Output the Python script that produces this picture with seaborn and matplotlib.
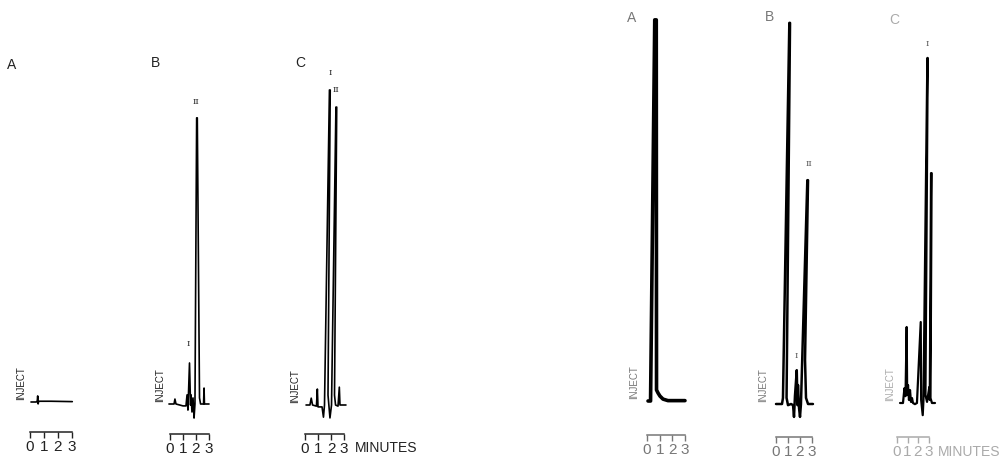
import matplotlib
matplotlib.use('Agg')
import matplotlib.pyplot as plt
import seaborn as sns

# chromatogram traces: time in minutes, response in % of full scale
left_a_t = [0.07, 0.45, 0.52, 0.55, 0.58, 0.62, 1.5, 3.02]
left_a_y = [0.0, 0.0, 0.3, 1.6, -0.5, 0.2, 0.2, 0.1]

left_b_t = [-0.08, 0.31, 0.38, 0.46, 1.0, 1.23, 1.31, 1.38, 1.5, 1.58, 1.62, 1.69, 1.77, 1.85,
            1.92, 2.05, 2.1, 2.27, 2.35, 2.45, 2.58, 2.62, 2.65, 3.0]
left_b_y = [0.0, 0.0, 1.3, 0.0, -0.5, -0.5, 2.4, -1.6, 10.8, -0.3, 2.4, -2.1, 1.6, -3.7,
            0.0, 75.3, 75.3, 1.6, 0.0, 0.0, 0.0, 4.2, 0.0, 0.0]

left_c_t = [0.08, 0.38, 0.48, 0.58, 0.88, 0.95, 1.0, 1.31, 1.42, 1.5, 1.88, 1.94, 1.77,
            1.92, 2.04, 2.38, 2.44, 2.27, 2.35, 2.54, 2.64, 2.69, 3.15]
left_c_y = [0.0, 0.0, 1.8, 0.0, -0.3, 4.2, -0.5, -0.5, -3.2, 0.0, 82.9, 82.9, 2.6,
            -3.4, 0.0, 78.4, 78.4, 2.6, 0.0, -0.3, 4.7, 0.0, 0.0]

right_a_t = [0.08, 0.28, 0.61, 0.73, 0.75, 0.87, 1.02, 1.26, 1.65, 2.99]
right_a_y = [0.0, 0.0, 100.3, 100.3, 2.9, 2.1, 1.3, 0.5, 0.1, 0.1]

right_b_t = [0.0, 0.5, 0.58, 1.11, 1.17, 0.88, 1.0, 1.25, 1.42, 1.5, 1.58, 1.73, 1.79, 1.83,
             1.92, 2.0, 2.08, 2.61, 2.67, 2.42, 2.5, 2.67, 3.08]
right_b_y = [0.0, 0.0, 1.6, 100.3, 100.3, 1.6, -0.3, 0.0, -0.3, -3.4, 2.1, 8.9, -0.3, 5.0,
             -1.1, -3.4, 0.0, 58.9, 58.9, 11.6, 1.6, 0.0, 0.0]

right_c_t = [0.29, 0.57, 0.71, 0.81, 0.92, 0.97, 1.05, 1.14, 1.24, 1.33, 1.43, 1.52, 1.71,
             1.9, 2.26, 2.3, 2.45, 2.52, 2.89, 2.93, 2.71, 2.86, 3.08, 3.12, 3.24, 3.3,
             3.19, 3.33, 3.62]
right_c_y = [0.0, 0.0, 3.9, 1.8, 20.0, 2.1, 4.7, 0.8, 3.4, 0.3, 1.3, 0.0, -0.3,
             0.0, 21.3, 0.8, -3.2, 0.8, 90.8, 90.8, 2.1, 0.3, 4.2, 0.8, 60.5, 60.5,
             1.3, 0.0, 0.0]

traces = [(left_a_t, left_a_y), (left_b_t, left_b_y), (left_c_t, left_c_y),
          (right_a_t, right_a_y), (right_b_t, right_b_y), (right_c_t, right_c_y)]

panel_letters = ['A', 'B', 'C', 'A', 'B', 'C']
tick_minutes = [0, 1, 2, 3]
tick_labels = ['0', '1', '2', '3']

# peak labels: (panel index, text, minutes, response)
peak_names = [(1, 'I', 1.42, 14.7), (1, 'II', 2.0, 78.4),
              (2, 'I', 1.92, 86.3), (2, 'II', 2.35, 81.8),
              (4, 'I', 1.67, 11.6), (4, 'II', 2.75, 62.1),
              (5, 'I', 2.9, 93.4)]

# layout in pixels: time-zero x, px per minute, baseline y, panel letter position
W, H = 1002, 459
PX_PER_UNIT = 3.8
YLIM = (-12, 105)
layout = [
    dict(t0=30, s=14.0, yb=402, letter=(12, 65), inject=-0.64, spine=-7.9, c='#222', lw=1.2),
    dict(t0=170, s=13.0, yb=404, letter=(156, 63), inject=-0.77, spine=-7.9, c='#222', lw=1.2),
    dict(t0=305, s=13.0, yb=405, letter=(300, 63), inject=-0.77, spine=-7.6, c='#222', lw=1.2),
    dict(t0=647, s=12.7, yb=401, letter=(632, 18), inject=-1.02, spine=-8.9, c='#777', lw=2.6),
    dict(t0=776, s=12.0, yb=404, letter=(769, 17), inject=-1.08, spine=-8.7, c='#777', lw=1.8),
    dict(t0=897, s=10.5, yb=403, letter=(894, 20), inject=-0.67, spine=-8.9, c='#aaa', lw=1.6),
]

sns.set_theme(style='white')
plt.rcParams['font.family'] = ['Liberation Sans', 'DejaVu Sans']

fig = plt.figure(figsize=(W / 100, H / 100), dpi=100)

axes = []
for i, ((t, y), lay) in enumerate(zip(traces, layout)):
    left_px = lay['t0'] - lay['s'] * 1.0
    width_px = lay['s'] * 5.0
    top_px = lay['yb'] - YLIM[1] * PX_PER_UNIT
    height_px = (YLIM[1] - YLIM[0]) * PX_PER_UNIT
    ax = fig.add_axes([left_px / W, (H - top_px - height_px) / H, width_px / W, height_px / H])
    ax.set_facecolor('none')
    sns.lineplot(x=t, y=y, sort=False, estimator=None, color='black', lw=lay['lw'], ax=ax)
    ax.set_xlim(-1, 4)
    ax.set_ylim(*YLIM)

    for side in ['top', 'left', 'right']:
        ax.spines[side].set_visible(False)
    ax.spines['bottom'].set_position(('data', lay['spine']))
    ax.spines['bottom'].set_bounds(0, 3)
    ax.spines['bottom'].set_color(lay['c'])
    ax.spines['bottom'].set_linewidth(1.1)
    ax.set_yticks([])
    ax.set_xticks(tick_minutes)
    ax.set_xticklabels(tick_labels)
    ax.tick_params(axis='x', bottom=True, direction='out', length=4, width=1, pad=2,
                   labelsize=11, colors=lay['c'])
    ax.set_xlabel('')
    ax.set_ylabel('')

    ax.text(lay['inject'], 0.5, 'INJECT', rotation=90, ha='center', va='bottom',
            fontsize=7, color=lay['c'])
    fig.text(lay['letter'][0] / W, 1 - lay['letter'][1] / H, panel_letters[i],
             ha='center', va='center', fontsize=10, color=lay['c'])
    axes.append(ax)

for idx, name, tm, resp in peak_names:
    axes[idx].text(tm, resp, name, ha='center', va='bottom', fontsize=6,
                   family='DejaVu Serif', color='#222' if idx < 3 else '#555')

axes[2].text(3.85, -11.3, 'MINUTES', ha='left', va='center', fontsize=10, color='#222')
axes[5].text(3.9, -12.9, 'MINUTES', ha='left', va='center', fontsize=10, color='#aaa')

plt.savefig('out.png', dpi=100)
